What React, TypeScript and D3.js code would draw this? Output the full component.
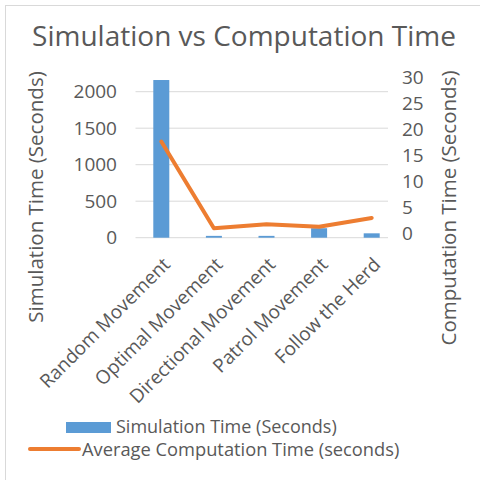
import React from "react";
import { scaleBand, scaleLinear, line as d3Line } from "d3";

const categories = [
  "Random Movement",
  "Optimal Movement",
  "Directional Movement",
  "Patrol Movement",
  "Follow the Herd",
];
const simulationTime = [2160, 25, 25, 130, 60];
const computationTime = [17.6, 0.9, 1.7, 1.2, 2.9];
const leftTicks = [0, 500, 1000, 1500, 2000];
const rightTicks = [0, 5, 10, 15, 20, 25, 30];

const FONT = "'Open Sans', 'Noto Sans', sans-serif";
const TEXT = "#595959";
const GRID = "#d9d9d9";
const BLUE = "#5b9bd5";
const ORANGE = "#ed7d31";

export default function App() {
  const width = 480;
  const height = 480;
  const yBase = 237.7;

  const x = scaleBand().domain(categories).range([135, 398]).padding(0);
  const yLeft = scaleLinear().domain([0, 2000]).range([yBase, 91.7]);
  const yRight = scaleLinear().domain([0, 30]).range([233, 77]);

  const barW = 16;
  const cx = (c: string) => (x(c) ?? 0) + x.bandwidth() / 2;

  const linePath = d3Line<number>()
    .x((_, i) => cx(categories[i]))
    .y((d) => yRight(d))(computationTime);

  return (
    <svg
      width={width}
      height={height}
      style={{ position: "absolute", left: 0, top: 0, background: "#fff" }}
      fontFamily={FONT}
    >
      {/* chart frame */}
      <rect x={5.5} y={5.5} width={width} height={height} fill="#fff" stroke={GRID} />

      <text x={244} y={46} textAnchor="middle" fontSize={28} fill={TEXT}>
        Simulation vs Computation Time
      </text>

      {/* gridlines */}
      {leftTicks.map((t) => (
        <line
          key={t}
          x1={135.5}
          x2={388}
          y1={yLeft(t)}
          y2={yLeft(t)}
          stroke={GRID}
          strokeWidth={1}
        />
      ))}

      {/* left tick labels */}
      {leftTicks.map((t) => (
        <text
          key={t}
          x={117}
          y={yLeft(t)}
          dy="0.35em"
          textAnchor="end"
          fontSize={19}
          fill={TEXT}
        >
          {t}
        </text>
      ))}

      {/* right tick labels */}
      {rightTicks.map((t) => (
        <text key={t} x={402} y={yRight(t)} dy="0.35em" fontSize={19} fill={TEXT}>
          {t}
        </text>
      ))}

      {/* bars */}
      {categories.map((c, i) => (
        <rect
          key={c}
          x={cx(c) - barW / 2}
          y={yLeft(simulationTime[i])}
          width={barW}
          height={yBase - yLeft(simulationTime[i])}
          fill={BLUE}
        />
      ))}

      {/* line */}
      <path
        d={linePath ?? ""}
        fill="none"
        stroke={ORANGE}
        strokeWidth={4}
        strokeLinejoin="round"
        strokeLinecap="round"
      />

      {/* category labels */}
      {categories.map((c) => (
        <text
          key={c}
          transform={`translate(${cx(c) + 10},${yBase + 28}) rotate(-45)`}
          textAnchor="end"
          fontSize={19}
          fill={TEXT}
        >
          {c}
        </text>
      ))}

      {/* axis titles */}
      <text
        transform="translate(43,197) rotate(-90)"
        textAnchor="middle"
        fontSize={20.5}
        fill={TEXT}
      >
        Simulation Time (Seconds)
      </text>
      <text
        transform="translate(456,208) rotate(-90)"
        textAnchor="middle"
        fontSize={20.5}
        fill={TEXT}
      >
        Computation Time (Seconds)
      </text>

      {/* legend */}
      <rect x={66} y={422} width={45} height={11} fill={BLUE} />
      <text x={116} y={426.5} dy="0.35em" fontSize={18} fill={TEXT}>
        Simulation Time (Seconds)
      </text>
      <line x1={30} x2={79} y1={449} y2={449} stroke={ORANGE} strokeWidth={4} strokeLinecap="round" />
      <text x={82} y={450} dy="0.35em" fontSize={18.3} fill={TEXT}>
        Average Computation Time (seconds)
      </text>
    </svg>
  );
}
